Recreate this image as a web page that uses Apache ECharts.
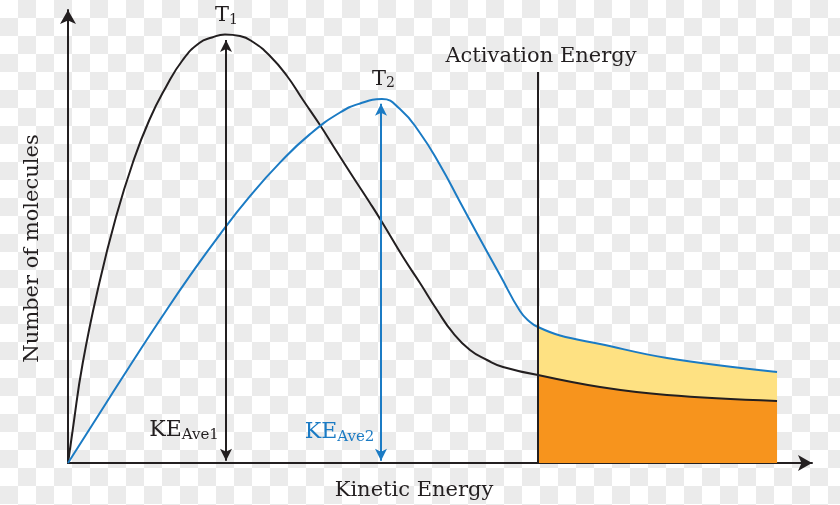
<!DOCTYPE html>
<html>
<head>
<meta charset="utf-8">
<script src="https://cdn.jsdelivr.net/npm/echarts@6/dist/echarts.min.js"></script>
<style>
html,body{margin:0;padding:0;}
body{width:840px;height:505px;background-color:#fff;
background-image:conic-gradient(#ebebeb 0 25%, #ffffff 0 50%, #ebebeb 0 75%, #ffffff 0);
background-size:36px 36px;}
#c{width:840px;height:505px;}
</style>
</head>
<body>
<div id="c"></div>
<script>
// Kinetic energy (x) and number of molecules (y)
const t1X = [0, 0.63, 1.98, 4.21, 6.45, 8.70, 10.93, 13.17, 15.42, 17.65, 19.35, 21.10, 23.12, 24.87, 27.15, 29.44, 31.59, 33.87, 36.16, 38.31, 40.59, 42.20, 45.03, 47.31, 49.60, 51.75, 54.03, 56.32, 58.47, 63.17];
const t1Y = [0, 7.28, 22.08, 39.74, 54.30, 66.23, 75.72, 83.00, 88.96, 92.72, 93.93, 94.59, 94.26, 92.94, 89.85, 85.43, 80.13, 74.61, 68.65, 63.13, 57.40, 53.20, 45.47, 39.74, 33.77, 28.70, 24.94, 22.74, 21.19, 19.43];
const t1TailX = [63.17, 71.51, 80.51, 95.30];
const t1TailY = [19.43, 16.78, 15.01, 13.69];

const t2X = [0, 4.30, 8.33, 12.37, 16.40, 20.43, 24.46, 28.49, 32.53, 36.56, 39.25, 42.20, 44.62, 47.31, 50.00, 52.69, 55.38, 58.06, 60.75, 62.10, 63.17];
const t2Y = [0, 11.08, 21.48, 31.61, 41.35, 50.49, 58.90, 66.31, 72.60, 77.37, 79.36, 80.33, 78.15, 72.85, 65.78, 57.62, 49.45, 41.50, 33.55, 31.13, 30.02];
const t2TailX = [63.17, 66.13, 71.51, 80.51, 95.30];
const t2TailY = [30.02, 28.15, 26.27, 23.18, 20.09];

const activationEnergy = 63.17;
const activationTop = 86.3;
const keAve1 = 21.24, keAve1Top = 93.4;
const keAve2 = 42.07, keAve2Top = 79.3;

const labelT1 = [21.3, 98.6];
const labelT2 = [42.4, 84.6];
const labelKE1 = [15.6, 7.1];
const labelKE2 = [36.5, 6.6];

const axisMax = 100;

const pairs = (xs, ys) => xs.map((x, i) => [x, ys[i]]);
const INK = '#231f20';
const BLUE = '#1b7bc4';
const FONT = 'DejaVu Serif';

function subLabel(main, sub, color, big, small) {
  return {
    show: true,
    position: 'inside',
    formatter: '{a|' + main + '}{b|' + sub + '}',
    rich: {
      a: {fontFamily: FONT, fontSize: big, color: color, lineHeight: big + 1, verticalAlign: 'top'},
      b: {fontFamily: FONT, fontSize: small, color: color, lineHeight: small, padding: [big - 7, 0, 0, 0], verticalAlign: 'bottom'}
    }
  };
}

const chart = echarts.init(document.getElementById('c'), null, {renderer: 'canvas'});
chart.setOption({
  backgroundColor: 'transparent',
  animation: false,
  grid: {left: 68, right: 28, top: 10, bottom: 42, outerBoundsMode: 'none', containLabel: false},
  xAxis: {
    type: 'value', min: 0, max: axisMax,
    name: 'Kinetic Energy', nameLocation: 'middle', nameGap: 17,
    nameTextStyle: {fontFamily: FONT, fontSize: 21, color: INK, padding: [0, 52, 0, 0]},
    axisLine: {show: true, symbol: ['none', 'arrow'], symbolSize: [12, 14], lineStyle: {color: INK, width: 2}},
    axisTick: {show: false}, axisLabel: {show: false}, splitLine: {show: false}
  },
  yAxis: {
    type: 'value', min: 0, max: axisMax,
    name: 'Number of molecules', nameLocation: 'middle', nameGap: 25, nameRotate: 90,
    nameTextStyle: {fontFamily: FONT, fontSize: 21, color: INK, padding: [0, 24, 0, 0]},
    axisLine: {show: true, symbol: ['none', 'arrow'], symbolSize: [12, 14], lineStyle: {color: INK, width: 2}},
    axisTick: {show: false}, axisLabel: {show: false}, splitLine: {show: false}
  },
  series: [
    {
      name: 'T2 tail', type: 'line', data: pairs(t2TailX, t2TailY), smooth: 0.4, symbol: 'none',
      lineStyle: {color: BLUE, width: 2}, areaStyle: {color: '#fee182', opacity: 1}
    },
    {
      name: 'T1 tail', type: 'line', data: pairs(t1TailX, t1TailY), smooth: 0.4, symbol: 'none',
      lineStyle: {color: INK, width: 2}, areaStyle: {color: '#f7941d', opacity: 1}
    },
    {
      name: 'T1', type: 'line', data: pairs(t1X, t1Y), smooth: 0.5, symbol: 'none',
      lineStyle: {color: INK, width: 2},
      markLine: {
        silent: true, animation: false,
        symbol: ['arrow', 'arrow'], symbolSize: [9, 12],
        lineStyle: {color: INK, width: 2, type: 'solid'},
        label: {show: false},
        data: [
          [{coord: [keAve1, 0.5]}, {coord: [keAve1, keAve1Top]}],
          [{coord: [activationEnergy, 0], symbol: 'none'}, {coord: [activationEnergy, activationTop], symbol: 'none',
            label: {show: true, position: 'end', formatter: 'Activation Energy', fontFamily: FONT, fontSize: 21, color: INK, distance: 5, padding: [0, 0, 0, 6]}}]
        ]
      },
      markPoint: {
        symbol: 'circle', symbolSize: 0, silent: true,
        data: [
          {coord: labelT1, label: subLabel('T', '1', INK, 21, 14)},
          {coord: labelKE1, label: subLabel('KE', 'Ave1', INK, 22, 15)}
        ]
      }
    },
    {
      name: 'T2', type: 'line', data: pairs(t2X, t2Y), smooth: 0.5, symbol: 'none',
      lineStyle: {color: BLUE, width: 2},
      markLine: {
        silent: true, animation: false,
        symbol: ['arrow', 'arrow'], symbolSize: [9, 12],
        lineStyle: {color: BLUE, width: 2, type: 'solid'},
        label: {show: false},
        data: [
          [{coord: [keAve2, 0.5]}, {coord: [keAve2, keAve2Top]}]
        ]
      },
      markPoint: {
        symbol: 'circle', symbolSize: 0, silent: true,
        data: [
          {coord: labelT2, label: subLabel('T', '2', INK, 21, 14)},
          {coord: labelKE2, label: subLabel('KE', 'Ave2', BLUE, 22, 15)}
        ]
      }
    }
  ]
});
</script>
</body>
</html>
